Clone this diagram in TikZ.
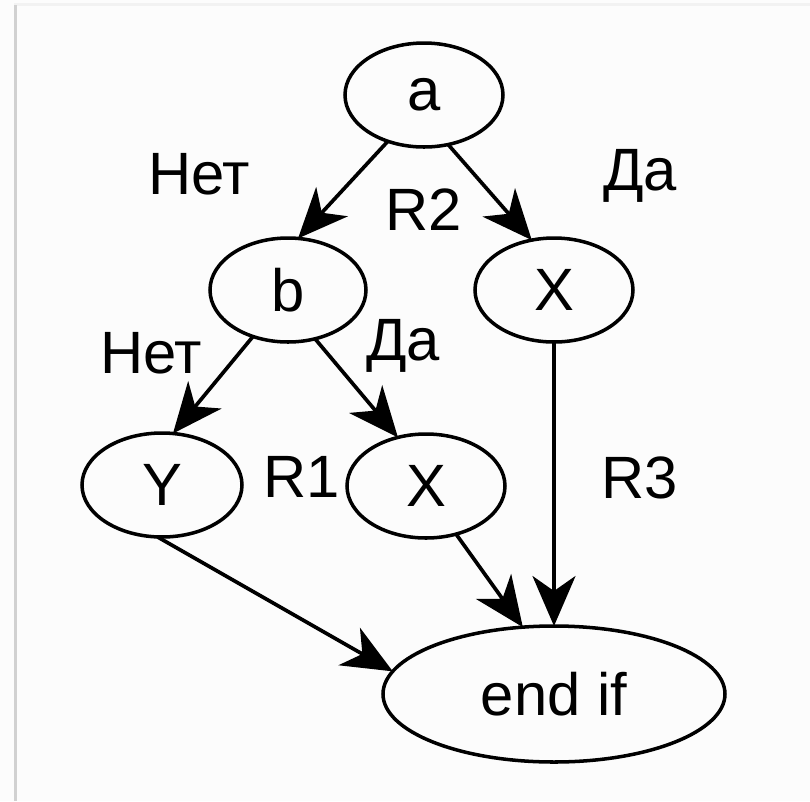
\documentclass[tikz,border=0pt]{standalone}
\usepackage{fontspec}
\setmainfont{Liberation Sans}
\usetikzlibrary{shapes.geometric,arrows.meta}
\begin{document}
\begin{tikzpicture}[x=0.1mm, y=-0.1mm,
  every node/.style={font=\fontsize{17}{20}\selectfont},
  state/.style={ellipse, draw, line width=1pt, inner sep=0pt, outer sep=0pt,
                minimum width=15.8mm, minimum height=10.4mm},
  flow/.style={line width=1.05pt, -{Stealth[length=5mm, width=4.3mm, inset=1.5mm]}},
  lbl/.style={anchor=base, inner sep=0pt}]
  % page frame
  \useasboundingbox (0,0) rectangle (810,801);
  \fill[white!99!black] (0,0) rectangle (810,801);
  \fill[black!5] (14,3) rectangle (810,6);
  \fill[black!18] (14,5) rectangle (17,801);

  % decision nodes and blocks
  \node[state] (a) at (424,95) {a};
  \node[state, minimum width=15.6mm] (b) at (288,290) {b};
  \node[state] (xr) at (554,290) {X};
  \node[state, minimum width=16mm] (y) at (162,485) {Y};
  \node[state] (xm) at (426,486) {X};
  \node[state, minimum width=34.2mm, minimum height=13.6mm] (endif) at (554,694) {end if};

  % branches
  \draw[flow] (a.232) -- (b.79);
  \draw[flow] (a.296) -- (xr.114);
  \draw[flow] (b.233) -- (y.78);
  \draw[flow] (b.299) -- (xm.120);
  \draw[flow] (y.265) -- (endif.172);
  \draw[flow] (xm.302) -- (endif.115);
  \draw[flow] (xr.south) -- (endif.north);

  % branch labels and regions
  \node[lbl] (no1) at (199,194) {Нет};
  \node[lbl] (yes1) at (640,190) {Да};
  \node[lbl] (r2) at (424,230) {R2};
  \node[lbl] (no2) at (151,373) {Нет};
  \node[lbl] (yes2) at (403,360) {Да};
  \node[lbl] (r1) at (302,497) {R1};
  \node[lbl] (r3) at (640,498) {R3};
\end{tikzpicture}
\end{document}
